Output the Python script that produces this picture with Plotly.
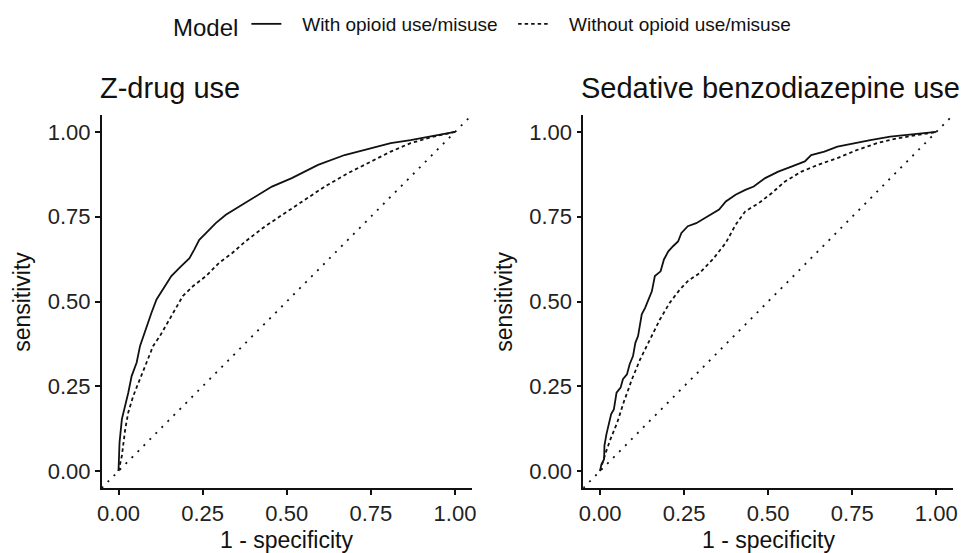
import plotly.graph_objects as go

# ---------------- data ----------------
z_fpr_with = [0.0, 0.003, 0.01, 0.02, 0.029, 0.039, 0.054, 0.064, 0.083, 0.098, 0.113, 0.132,
              0.157, 0.181, 0.211, 0.225, 0.240, 0.265, 0.289, 0.319, 0.358, 0.407, 0.456,
              0.515, 0.593, 0.672, 0.75, 0.809, 0.868, 0.946, 1.0]
z_tpr_with = [0.0, 0.084, 0.153, 0.192, 0.231, 0.28, 0.32, 0.369, 0.427, 0.467, 0.506, 0.535,
              0.575, 0.599, 0.628, 0.653, 0.682, 0.707, 0.731, 0.756, 0.780, 0.810, 0.839,
              0.864, 0.903, 0.932, 0.952, 0.967, 0.976, 0.991, 1.0]

z_fpr_without = [0.0, 0.01, 0.02, 0.029, 0.044, 0.064, 0.083, 0.103, 0.123, 0.137, 0.162, 0.191,
                 0.221, 0.260, 0.299, 0.338, 0.377, 0.436, 0.495, 0.554, 0.613, 0.681, 0.75,
                 0.809, 0.868, 0.936, 1.0]
z_tpr_without = [0.0, 0.045, 0.124, 0.173, 0.222, 0.271, 0.32, 0.369, 0.398, 0.423, 0.467, 0.516,
                 0.545, 0.575, 0.614, 0.643, 0.677, 0.722, 0.761, 0.800, 0.839, 0.878, 0.913,
                 0.942, 0.967, 0.986, 1.0]

b_fpr_with = [0.0, 0.004, 0.012, 0.013, 0.019, 0.026, 0.033, 0.041, 0.049, 0.061, 0.068, 0.080,
              0.088, 0.098, 0.105, 0.113, 0.119, 0.124, 0.134, 0.144, 0.154, 0.163, 0.180,
              0.190, 0.203, 0.217, 0.232, 0.242, 0.261, 0.286, 0.310, 0.335, 0.354, 0.374,
              0.403, 0.432, 0.457, 0.491, 0.530, 0.569, 0.609, 0.628, 0.667, 0.706, 0.755,
              0.804, 0.863, 0.922, 1.0]
b_tpr_with = [0.0, 0.02, 0.035, 0.075, 0.109, 0.143, 0.168, 0.182, 0.231, 0.246, 0.271, 0.285,
              0.315, 0.339, 0.378, 0.398, 0.437, 0.462, 0.481, 0.506, 0.530, 0.575, 0.589,
              0.624, 0.648, 0.663, 0.677, 0.702, 0.722, 0.731, 0.746, 0.761, 0.771, 0.795,
              0.815, 0.829, 0.839, 0.864, 0.883, 0.898, 0.913, 0.932, 0.942, 0.957, 0.967,
              0.976, 0.986, 0.993, 1.0]

b_fpr_without = [0.0, 0.007, 0.017, 0.031, 0.051, 0.070, 0.095, 0.119, 0.149, 0.178, 0.207,
                 0.237, 0.261, 0.296, 0.335, 0.374, 0.403, 0.432, 0.472, 0.511, 0.550, 0.599,
                 0.648, 0.706, 0.765, 0.824, 0.883, 0.941, 1.0]
b_tpr_without = [0.0, 0.025, 0.055, 0.094, 0.143, 0.202, 0.271, 0.329, 0.388, 0.447, 0.496,
                 0.535, 0.560, 0.584, 0.624, 0.673, 0.726, 0.766, 0.790, 0.820, 0.854, 0.883,
                 0.903, 0.923, 0.947, 0.967, 0.981, 0.991, 1.0]

chance_line = [-0.05, 1.05]

panel_titles = ["Z-drug use", "Sedative benzodiazepine use"]
series_names = ["With opioid use/misuse", "Without opioid use/misuse"]
tick_vals = [0, 0.25, 0.5, 0.75, 1.0]
tick_text = ["0.00", "0.25", "0.50", "0.75", "1.00"]

# ---------------- figure ----------------
W, H = 967, 553
FONT = "Liberation Sans, Arial, Helvetica, sans-serif"
INK = "#111111"
NB = "\u00a0"
legend_labels = [NB * 3 + series_names[0] + NB * 2, NB * 3 + series_names[1]]

fig = go.Figure()

panels = [
    ("x", "y", z_fpr_with, z_tpr_with, z_fpr_without, z_tpr_without),
    ("x2", "y2", b_fpr_with, b_tpr_with, b_fpr_without, b_tpr_without),
]
for i, (xa, ya, fw, tw, fwo, two) in enumerate(panels):
    fig.add_trace(go.Scatter(x=chance_line, y=chance_line, xaxis=xa, yaxis=ya, mode="lines",
                             line=dict(color=INK, width=1.8, dash="2px,6.5px"),
                             showlegend=False, hoverinfo="skip"))
    fig.add_trace(go.Scatter(x=fwo, y=two, xaxis=xa, yaxis=ya, mode="lines",
                             name=legend_labels[1], legendgroup="wo", legendrank=2,
                             line=dict(color=INK, width=1.8, dash="3.5px,3px"),
                             showlegend=(i == 0)))
    fig.add_trace(go.Scatter(x=fw, y=tw, xaxis=xa, yaxis=ya, mode="lines",
                             name=legend_labels[0], legendgroup="w", legendrank=1,
                             line=dict(color=INK, width=1.8),
                             showlegend=(i == 0)))

x1_dom = [97.7 / W, 471.7 / W]
x2_dom = [584.3 / W, 958.0 / W]
y_dom = [1 - 488 / H, 1 - 115 / H]

axis_common = dict(range=[-0.05, 1.05], tickvals=tick_vals, ticktext=tick_text,
                   showline=True, linecolor=INK, linewidth=1.5, ticks="outside",
                   ticklen=5, tickwidth=1.5, tickcolor=INK, showgrid=False, zeroline=False,
                   tickfont=dict(family=FONT, size=22, color="#222222"), fixedrange=True)

fig.update_layout(
    width=W, height=H,
    margin=dict(l=0, r=0, t=0, b=0),
    paper_bgcolor="white", plot_bgcolor="white",
    font=dict(family=FONT, color=INK),
    xaxis=dict(domain=x1_dom, anchor="y", **axis_common),
    yaxis=dict(domain=y_dom, anchor="x", **axis_common),
    xaxis2=dict(domain=x2_dom, anchor="y2", **axis_common),
    yaxis2=dict(domain=y_dom, anchor="x2", **axis_common),
    legend=dict(orientation="h", x=0.5, xanchor="center", y=1 - 26 / H, yanchor="middle",
                title=dict(text="Model", side="left", font=dict(family=FONT, size=24, color=INK)),
                font=dict(family=FONT, size=19, color=INK), bgcolor="rgba(0,0,0,0)",
                itemwidth=30, traceorder="normal"),
    showlegend=True,
)

annotations = []
for dom, title in zip([x1_dom, x2_dom], panel_titles):
    annotations.append(dict(text=title, x=dom[0] - 4 / W, y=1 - 88 / H, xref="paper", yref="paper",
                            xanchor="left", yanchor="middle", showarrow=False,
                            font=dict(family=FONT, size=29, color=INK)))
    annotations.append(dict(text="1 - specificity", x=(dom[0] + dom[1]) / 2, y=1 - 540 / H,
                            xref="paper", yref="paper", xanchor="center", yanchor="middle",
                            showarrow=False, font=dict(family=FONT, size=23, color=INK)))
for xp in [17 / W, 504 / W]:
    annotations.append(dict(text="sensitivity", x=xp, y=1 - 302 / H, xref="paper", yref="paper",
                            xanchor="center", yanchor="middle", textangle=-90, showarrow=False,
                            font=dict(family=FONT, size=23, color=INK)))
fig.update_layout(annotations=annotations)

fig.write_html("out.html", config={"displayModeBar": False},
               post_script="document.body.style.margin='0';document.body.style.padding='0';")
